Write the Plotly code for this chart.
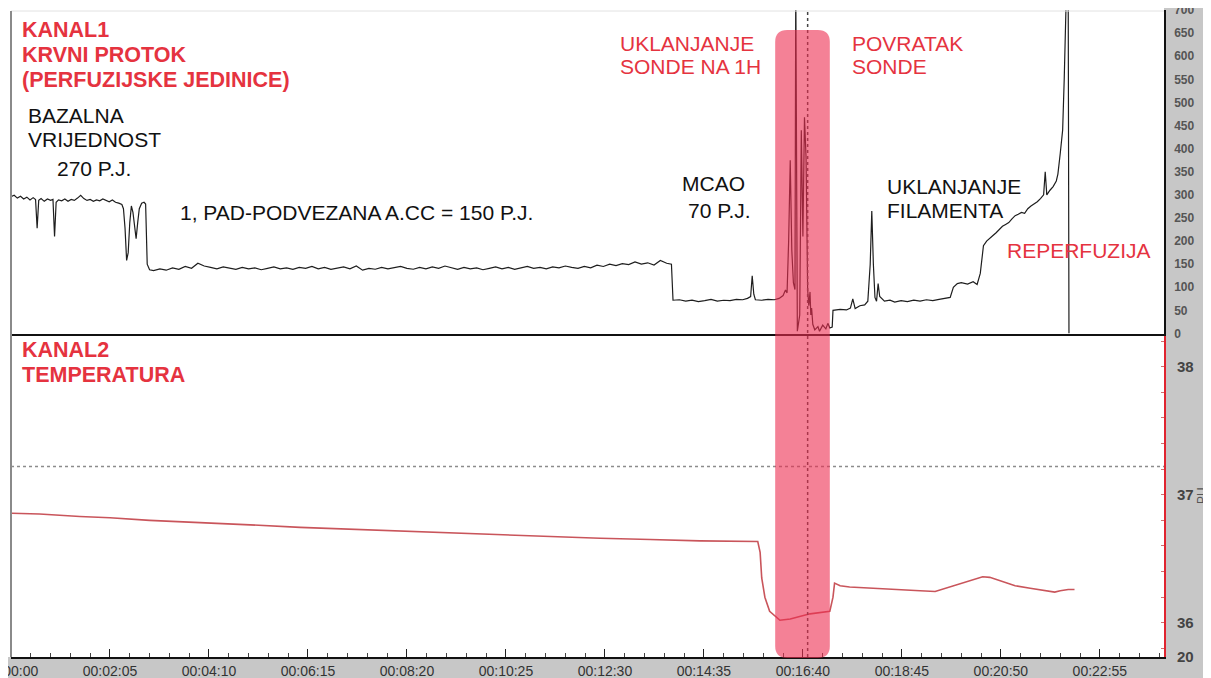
import plotly.graph_objects as go

# ---------------- data ----------------
# Channel 1: blood flow (perfusion units), time in seconds
flow_t = [0, 4, 8, 12, 16, 20, 24, 28, 31, 33, 35, 38, 42, 46, 50, 53, 55, 57, 60, 64, 68, 72, 76, 80,
          84, 88, 92, 96, 100, 104, 108, 112, 116, 120, 124, 128, 132, 136, 140,
          142, 144, 146, 148, 150, 152, 154, 156, 158, 160, 162, 165, 168, 170, 172, 175,
          180, 188, 196, 204, 212, 220, 228, 236, 244, 252, 260, 268, 276, 284, 292, 300, 308, 316,
          324, 332, 340, 348, 356, 364, 372, 380, 388, 396, 404, 412, 420, 428, 436, 444, 452, 460,
          468, 476, 484, 492, 500, 508, 516, 524, 532, 540, 548, 556, 564, 572, 580, 588, 596, 604,
          612, 620, 628, 636, 644, 652, 660, 668, 676, 684, 692, 700, 708, 716, 724, 732, 740, 748,
          756, 764, 772, 780, 788, 796, 804, 812, 820, 828, 834,
          836, 844, 852, 860, 868, 876, 884, 892, 900, 908, 916, 924, 930, 934, 936, 938, 940, 948,
          956, 964, 970, 975, 978, 980, 982, 984, 986, 988, 990, 991, 993, 996, 998, 1000, 1002,
          1004, 1005, 1006, 1007.5, 1009, 1010, 1011, 1012.5, 1015, 1019, 1021, 1025, 1029, 1031.5,
          1034, 1037, 1038, 1047, 1055, 1060, 1063, 1066, 1072, 1078, 1082, 1085, 1087, 1089, 1091,
          1093, 1095, 1097, 1103, 1110, 1116, 1124, 1132, 1140, 1148, 1156, 1164, 1172, 1180, 1186,
          1190, 1195, 1200, 1208, 1215, 1220, 1224, 1228, 1232, 1236, 1240, 1244, 1248, 1252, 1256,
          1260, 1264, 1268, 1272, 1276, 1280, 1284, 1288, 1292, 1296, 1300, 1304, 1306, 1308, 1312,
          1316, 1320, 1322, 1325, 1328, 1330, 1332, 1333, 1335, 1336]
flow_v = [296, 299, 293, 297, 291, 295, 289, 294, 290, 228, 288, 292, 286, 291, 288, 290, 210, 284, 289, 287, 291, 286, 290, 288,
          293, 299, 292, 288, 290, 286, 289, 287, 291, 288, 285, 289, 284, 282, 279,
          270, 228, 158, 175, 240, 276, 262, 230, 205, 240, 270, 282, 284, 280, 150, 138,
          136, 140, 137, 142, 139, 145, 141, 152, 146, 143, 140, 144, 141, 139, 143, 140, 142, 138,
          141, 144, 140, 142, 139, 143, 141, 145, 140, 143, 139, 142, 144, 140, 146, 137, 141, 139,
          143, 140, 142, 145, 141, 139, 143, 140, 144, 141, 146, 142, 139, 143, 140, 142, 138, 141,
          144, 140, 143, 139, 142, 145, 141, 143, 140, 144, 142, 146, 143, 141, 145, 142, 148, 145,
          150, 147, 151, 149, 155, 150, 153, 148, 158, 152, 150,
          72, 73, 70, 72, 69, 71, 74, 70, 72, 71, 74, 73, 76, 80, 125, 85, 73, 72,
          74, 73, 76, 82, 94, 88, 200, 375, 180, 110, 95, 760, 5, 40, 440, 210, 468,
          380, 190, 95, 60, 90, 40, 55, 20, 8, 15, 5, 18, 10, 22,
          12, 14, 50, 52, 51, 55, 75, 54, 60, 62, 70, 150, 265, 150, 78,
          70, 108, 80, 70, 72, 68, 71, 69, 72, 70, 73, 71, 74, 76, 78,
          100, 108, 110, 107, 112, 106, 130, 190, 200, 205, 212, 218, 225, 232, 236,
          240, 248, 255, 258, 262, 260, 270, 276, 280, 285, 292, 300, 350, 300, 310,
          318, 330, 345, 390, 440, 550, 650, 760, 760, 0]

# Channel 2: temperature (deg C), time in seconds
temp_t = [1, 36, 87, 125, 175, 239, 302, 365, 428, 491, 554, 617, 680, 744, 807, 870, 943,
          946, 948, 952, 958, 965, 971, 984, 996, 1009, 1034, 1038, 1040, 1047, 1059, 1072,
          1097, 1122, 1148, 1167, 1186, 1205, 1217, 1227, 1236, 1249, 1268, 1287, 1306, 1318,
          1325, 1335, 1343]
temp_v = [36.855, 36.85, 36.83, 36.82, 36.80, 36.785, 36.765, 36.745, 36.73, 36.715, 36.70, 36.685,
          36.67, 36.66, 36.65, 36.64, 36.635,
          36.55, 36.35, 36.20, 36.09, 36.05, 36.02, 36.03, 36.05, 36.07, 36.09, 36.20, 36.31,
          36.29, 36.28, 36.275, 36.27, 36.26, 36.25, 36.245, 36.28, 36.32, 36.34, 36.36, 36.355,
          36.33, 36.29, 36.27, 36.255, 36.24, 36.25, 36.26, 36.26]

# event times (s) and reference level
probe_out_start = 965      # probe removed (pink band start)
probe_back = 1034          # probe returned (pink band end)
marker_time = 1006         # dotted cursor
temp_ref = 37.22           # dotted reference temperature

# axes
x_tick_vals = [0, 125, 250, 375, 500, 625, 750, 875, 1000, 1125, 1250, 1375]
x_tick_text = ["00:00:00", "00:02:05", "00:04:10", "00:06:15", "00:08:20", "00:10:25",
               "00:12:30", "00:14:35", "00:16:40", "00:18:45", "00:20:50", "00:22:55"]
flow_ticks = list(range(0, 701, 50))
temp_tick_vals = [35.733, 36, 37, 38]
temp_tick_text = ["20", "36", "37", "38"]

# ---------------- figure ----------------
# the page places the figure 8px in from the top-left corner (default body margin)
OFF = 8
PAGE_W, PAGE_H = 1211, 678
PL, PR, PT, PB = 11, 1164, 10, 657          # plot area in page pixels
W, H = PAGE_W - OFF, PAGE_H - OFF
ML, MT = PL - OFF, PT - OFF
MR, MB = PAGE_W - PR, PAGE_H - PB
PW, PH = PR - PL, PB - PT
FONT = "Liberation Sans, Arial, sans-serif"
RED = "#e5333f"
GREY_BG = "#c7c7c7"


def px(xp):
    return (xp - PL) / PW


def py(yp):
    return (PB - yp) / PH


fig = go.Figure()
fig.add_trace(go.Scatter(x=flow_t, y=flow_v, mode="lines", xaxis="x2", yaxis="y",
                         line=dict(color="#1e1e1e", width=1.2), hoverinfo="skip"))
fig.add_trace(go.Scatter(x=temp_t, y=temp_v, mode="lines", xaxis="x", yaxis="y2",
                         line=dict(color="#c9555b", width=1.6), hoverinfo="skip"))

shapes = []
# grey strips (right axis area, bottom label area)
shapes.append(dict(type="rect", xref="paper", yref="paper", x0=1, x1=px(PAGE_W + 2), y0=py(PAGE_H + 2), y1=py(0),
                   fillcolor=GREY_BG, line=dict(width=0), layer="below"))
shapes.append(dict(type="rect", xref="paper", yref="paper", x0=px(0), x1=px(PAGE_W + 2), y0=py(PAGE_H + 2), y1=0,
                   fillcolor=GREY_BG, line=dict(width=0), layer="below"))
# faint top border and grey left border
shapes.append(dict(type="line", xref="paper", yref="paper", x0=0, x1=1, y0=py(11), y1=py(11),
                   line=dict(color="#e2e2e2", width=1)))
shapes.append(dict(type="line", xref="paper", yref="paper", x0=0, x1=0, y0=0, y1=py(11),
                   line=dict(color="#8a8a8a", width=2)))
# dotted reference temperature
shapes.append(dict(type="line", xref="paper", yref="y2", x0=0, x1=1, y0=temp_ref, y1=temp_ref,
                   line=dict(color="#8c8c8c", width=1.6, dash="dot")))
# dotted cursor through both panels
shapes.append(dict(type="line", xref="x", yref="paper", x0=marker_time, x1=marker_time, y0=0, y1=py(11),
                   line=dict(color="#444444", width=1.5, dash="dot")))
# pink rounded band
rx = 12 / PW * 1456
ry = 12 / PH
bx0, bx1 = probe_out_start, probe_back
by0, by1 = py(658), py(30)
path = (f"M {bx0 + rx},{by1} L {bx1 - rx},{by1} Q {bx1},{by1} {bx1},{by1 - ry} "
        f"L {bx1},{by0 + ry} Q {bx1},{by0} {bx1 - rx},{by0} L {bx0 + rx},{by0} "
        f"Q {bx0},{by0} {bx0},{by0 + ry} L {bx0},{by1 - ry} Q {bx0},{by1} {bx0 + rx},{by1} Z")
shapes.append(dict(type="path", xref="x", yref="paper", path=path,
                   fillcolor="rgba(236,45,80,0.6)", line=dict(width=0), layer="above"))
# white strip at the very top (cropped edge)
shapes.append(dict(type="rect", xref="paper", yref="paper", x0=px(0), x1=px(PAGE_W + 2), y0=py(8), y1=py(0),
                   fillcolor="white", line=dict(width=0), layer="above"))

annotations = []


def label(text, xp, yp, color, size, bold=False):
    t = f"<b>{text}</b>" if bold else text
    annotations.append(dict(text=t, xref="paper", yref="paper", x=px(xp), y=py(yp),
                            xanchor="left", yanchor="middle", showarrow=False,
                            font=dict(family=FONT, size=size, color=color), borderpad=0))


RS, BS = 21, 21.5
label("KANAL1", 21, 30, RED, BS, True)
label("KRVNI PROTOK", 21, 55, RED, BS, True)
label("(PERFUZIJSKE JEDINICE)", 21, 80, RED, BS, True)
label("BAZALNA", 27, 115, "#111111", RS)
label("VRIJEDNOST", 27, 140, "#111111", RS)
label("270 P.J.", 56, 168, "#111111", RS)
label("1, PAD-PODVEZANA A.CC = 150 P.J.", 179, 212, "#111111", RS)
label("MCAO", 681, 183, "#111111", RS)
label("70 P.J.", 687, 211, "#111111", RS)
label("UKLANJANJE", 619, 43, RED, RS)
label("SONDE NA 1H", 619, 66, RED, RS)
label("POVRATAK", 851, 43, RED, RS)
label("SONDE", 851, 66, RED, RS)
label("UKLANJANJE", 886, 186, "#111111", RS)
label("FILAMENTA", 886, 210, "#111111", RS)
label("REPERFUZIJA", 1006, 250, RED, RS)
label("KANAL2", 21, 350, RED, BS, True)
label("TEMPERATURA", 21, 375, RED, BS, True)
# axis unit labels
annotations.append(dict(text="PU", xref="paper", yref="paper", x=px(1210), y=py(175), textangle=-90,
                        xanchor="center", yanchor="middle", showarrow=False,
                        font=dict(family=FONT, size=12, color="#555555")))
annotations.append(dict(text="PU", xref="paper", yref="paper", x=px(1202), y=py(496), textangle=-90,
                        xanchor="center", yanchor="middle", showarrow=False,
                        font=dict(family=FONT, size=12, color="#555555")))

fig.update_layout(
    width=W, height=H,
    margin=dict(l=ML, r=MR, t=MT, b=MB, autoexpand=False),
    paper_bgcolor="white", plot_bgcolor="white",
    showlegend=False,
    shapes=shapes, annotations=annotations,
    xaxis=dict(domain=[0, 1], anchor="y2", range=[0, 1456], tickvals=x_tick_vals, ticktext=x_tick_text,
               ticks="inside", ticklen=8, tickwidth=1.2, tickcolor="#222222", automargin=False,
               ticklabeloverflow="allow",
               minor=dict(dtick=25, tick0=0, ticks="inside", ticklen=4, tickcolor="#444444"),
               showline=True, linecolor="#111111", linewidth=2, showgrid=False, zeroline=False,
               tickfont=dict(family=FONT, size=14, color="#333333")),
    xaxis2=dict(domain=[0, 1], anchor="y", matches="x", range=[0, 1456], showticklabels=False,
                automargin=False,
                showline=True, linecolor="#111111", linewidth=2, showgrid=False, zeroline=False, ticks=""),
    yaxis=dict(domain=[0.5, 1], anchor="x2", side="right", range=[0, 700], tickvals=flow_ticks,
               showline=True, linecolor="#111111", linewidth=1.5, showgrid=False, zeroline=False,
               ticks="", ticklabelstandoff=6, automargin=False, ticklabeloverflow="allow",
               tickfont=dict(family=FONT, size=12, color="#555555", weight="bold")),
    yaxis2=dict(domain=[0, 0.5], anchor="x", side="right", range=[35.733, 38.259],
                tickvals=temp_tick_vals, ticktext=temp_tick_text, automargin=False,
                ticklabeloverflow="allow",
                showline=True, linecolor="#e0242f", linewidth=2, showgrid=False, zeroline=False,
                ticks="", ticklabelstandoff=8,
                minor=dict(dtick=0.2, tick0=36, ticks="inside", ticklen=3, tickcolor="#d07070"),
                tickfont=dict(family=FONT, size=15, color="#444444", weight="bold")),
)

fig.write_html("out.html")
